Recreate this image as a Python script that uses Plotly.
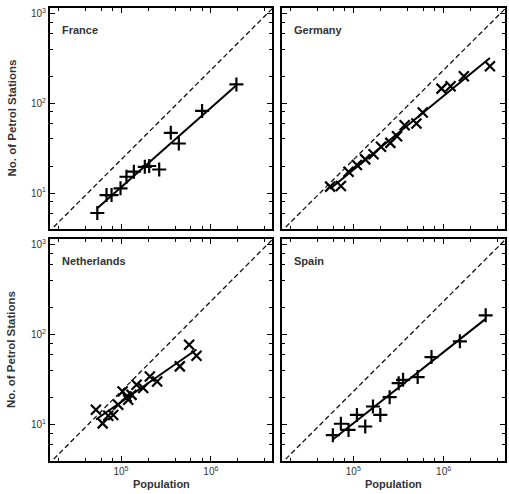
import numpy as np
import plotly.graph_objects as go

# Population and number of petrol stations per city, by country
france_pop = [54500, 69000, 78500, 98800, 115000, 139000, 184000, 206000, 266000,
              358000, 440000, 798000, 1923000]
france_stations = [6.0, 9.5, 9.5, 11.3, 15.2, 17.3, 19.6, 20.0, 18.3, 46.8, 35.6, 82, 162]

germany_pop = [55400, 72800, 88500, 109600, 135500, 167500, 202600, 257000, 305000,
               370500, 500000, 587000, 948000, 1194000, 1675000, 3258000]
germany_stations = [11.8, 12.0, 17.3, 20.5, 23.7, 27.1, 32.7, 36.2, 43, 57, 59.4, 78.8,
                    145.5, 154.5, 199.5, 257.6]

netherlands_pop = [52600, 62500, 72100, 81900, 93100, 104200, 115400, 120300, 131100,
                   149000, 176600, 209400, 252500, 451000, 573000, 692000]
netherlands_stations = [14.7, 10.4, 12.6, 12.9, 16.7, 23.4, 20.6, 19.0, 21.5, 27.8, 25.6,
                        34.4, 30.3, 44.5, 77.4, 58.5]

spain_pop = [59300, 72800, 88500, 109600, 135500, 165000, 199000, 252500, 317700,
             355500, 516000, 734000, 1514000, 2924000]
spain_stations = [7.7, 10.3, 8.8, 12.9, 9.6, 16.0, 12.9, 20.3, 29.0, 31.6, 33.9, 56.5,
                  84.4, 163.6]

countries = ["France", "Germany", "Netherlands", "Spain"]
populations = [france_pop, germany_pop, netherlands_pop, spain_pop]
stations = [france_stations, germany_stations, netherlands_stations, spain_stations]
marker_symbols = ["cross-thin-open", "x-thin-open", "x-thin-open", "cross-thin-open"]

# Reference line: stations proportional to population
proportional_rate = 10 ** -3.63
ref_pop = [10 ** 4.0, 10 ** 7.0]

x_ticks = [1e5, 1e6]
x_ticktext = ["10<sup>5</sup>", "10<sup>6</sup>"]
y_ticks = [1e1, 1e2, 1e3]
y_ticktext = ["10<sup>1</sup>", "10<sup>2</sup>", "10<sup>3</sup>"]
minor_digits = [2, 4, 6, 8]

W, H = 509, 494
x_domains = [[50 / W, 272 / W], [282 / W, 505 / W]]
y_domains = [[1 - 229 / H, 1 - 8 / H], [1 - 461 / H, 1 - 239 / H]]

x_range = [4.21, 6.68]
y_range = [0.6, 3.06]

fig = go.Figure()
font = dict(family="Liberation Sans, Arial, sans-serif", color="#222")

x_minor = [d * 10 ** e for e in range(4, 7) for d in minor_digits]
y_minor = [d * 10 ** e for e in range(0, 4) for d in minor_digits]

for i, name in enumerate(countries):
    row, col = divmod(i, 2)
    n = i + 1
    xa = "x" if n == 1 else f"x{n}"
    ya = "y" if n == 1 else f"y{n}"

    pop = np.array(populations[i], dtype=float)
    st = np.array(stations[i], dtype=float)

    # least-squares power-law fit in log space
    slope, intercept = np.polyfit(np.log10(pop), np.log10(st), 1)
    fit_x = np.array([pop.min(), pop.max()])
    fit_y = 10 ** (intercept + slope * np.log10(fit_x))

    fig.add_trace(go.Scatter(
        x=ref_pop, y=[p * proportional_rate for p in ref_pop], mode="lines",
        line=dict(color="#111", width=1.3, dash="5px,3px"),
        xaxis=xa, yaxis=ya, showlegend=False, hoverinfo="skip"))
    fig.add_trace(go.Scatter(
        x=fit_x, y=fit_y, mode="lines", line=dict(color="#000", width=2),
        xaxis=xa, yaxis=ya, showlegend=False))
    fig.add_trace(go.Scatter(
        x=pop, y=st, mode="markers",
        marker=dict(symbol=marker_symbols[i], size=10, color="#000",
                    line=dict(color="#000", width=2.2)),
        xaxis=xa, yaxis=ya, showlegend=False, name=name))

    axis_common = dict(
        type="log", showgrid=False, zeroline=False, showline=True,
        linecolor="#000", linewidth=2, mirror="allticks",
        ticks="inside", ticklen=5, tickwidth=1, tickcolor="#000",
        tickfont=dict(size=10, color="#333", family=font["family"]),
        minor=dict(ticks="inside", ticklen=3, tickwidth=1, tickcolor="#000",
                   showgrid=False, tickmode="array"),
    )
    xaxis = dict(axis_common, domain=x_domains[col], range=x_range,
                 anchor=ya, tickmode="array", tickvals=x_ticks,
                 ticktext=x_ticktext if row == 1 else ["", ""],
                 showticklabels=(row == 1))
    xaxis["minor"] = dict(axis_common["minor"], tickvals=x_minor)
    yaxis = dict(axis_common, domain=y_domains[row], range=y_range,
                 anchor=xa, tickmode="array", tickvals=y_ticks,
                 ticktext=y_ticktext, showticklabels=(col == 0))
    yaxis["minor"] = dict(axis_common["minor"], tickvals=y_minor)

    fig.layout["xaxis" if n == 1 else f"xaxis{n}"] = xaxis
    fig.layout["yaxis" if n == 1 else f"yaxis{n}"] = yaxis

    fig.add_annotation(
        text=f"<b>{name}</b>", xref=f"{xa} domain", yref=f"{ya} domain",
        x=0.045, y=0.9, xanchor="left", yanchor="middle", showarrow=False,
        font=dict(size=11, color="#333", family=font["family"]))

# Axis titles
for row in range(2):
    yc = (y_domains[row][0] + y_domains[row][1]) / 2
    fig.add_annotation(
        text="<b>No. of Petrol Stations</b>", xref="paper", yref="paper",
        x=11 / W, y=yc, textangle=-90, showarrow=False,
        xanchor="center", yanchor="middle",
        font=dict(size=11.5, color="#333", family=font["family"]))
for col in range(2):
    xc = (x_domains[col][0] + x_domains[col][1]) / 2
    fig.add_annotation(
        text="<b>Population</b>", xref="paper", yref="paper",
        x=xc, y=1 - 484 / H, showarrow=False,
        xanchor="center", yanchor="middle",
        font=dict(size=11, color="#333", family=font["family"]))

fig.update_layout(
    width=W, height=H, margin=dict(l=0, r=0, t=0, b=0),
    paper_bgcolor="white", plot_bgcolor="white", font=font,
)

fig.write_html("out.html")
